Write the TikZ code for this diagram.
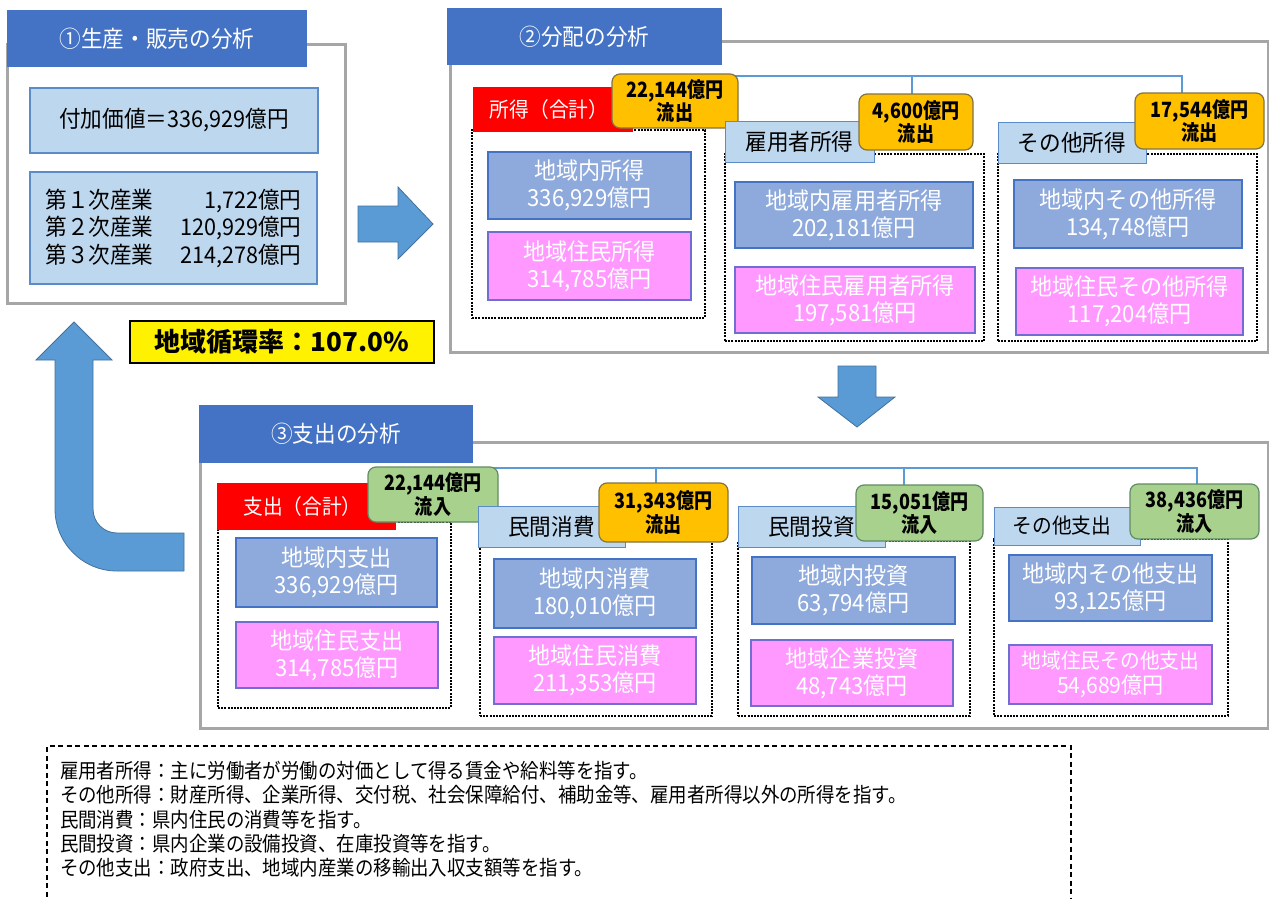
\documentclass[tikz,border=0pt]{standalone}
\usepackage{fontspec}
\newfontfamily\jp{Noto Sans CJK JP}
\newfontfamily\jpc[FakeStretch=0.86]{Noto Sans CJK JP}
\newfontfamily\jpm[FakeStretch=0.94]{Noto Sans CJK JP}
\newfontfamily\jpn[FakeStretch=0.9]{Noto Sans CJK JP}
\newcommand\jfs[2]{\fontsize{#1}{#2}\selectfont}
\definecolor{hblue}{RGB}{68,114,196}
\definecolor{fgray}{RGB}{166,166,166}
\definecolor{lblue}{RGB}{189,215,238}
\definecolor{lbord}{RGB}{91,140,200}
\definecolor{mblue}{RGB}{142,169,219}
\definecolor{mbord}{RGB}{68,114,196}
\definecolor{pinkf}{RGB}{255,153,255}
\definecolor{pbord}{RGB}{112,110,210}
\definecolor{orf}{RGB}{255,192,0}
\definecolor{orb}{RGB}{130,115,70}
\definecolor{grf}{RGB}{169,209,142}
\definecolor{grb}{RGB}{96,140,100}
\definecolor{connc}{RGB}{91,155,213}
\definecolor{arf}{RGB}{91,155,213}
\definecolor{arb}{RGB}{65,113,156}
\pgfdeclarelayer{bg}
\pgfdeclarelayer{mid}
\pgfsetlayers{bg,mid,main}
\newcommand\bx[7]{\node[#2, minimum width={(#5)-(#3)}, minimum height={(#6)-(#4)}] (#1) at ({((#3)+(#5))/2},{((#4)+(#6))/2}) {#7};}
\begin{document}
\begin{tikzpicture}[x=1pt,y=-1pt,
  every node/.style={inner sep=0pt, outer sep=0pt, align=center},
  frame/.style={draw=fgray, line width=3pt, fill=white},
  hdr/.style={fill=hblue, text=white, font=\jpm\jfs{23}{27}},
  lbox/.style={fill=lblue, draw=lbord, line width=1.2pt, font=\jpm\jfs{23}{27.5}},
  lhead/.style={fill=lblue, draw=lbord, line width=1pt, font=\jpm\jfs{23}{27}},
  mbox/.style={fill=mblue, draw=mbord, line width=1.5pt, text=white, font=\jpm\jfs{23.5}{27}},
  pbox/.style={fill=pinkf, draw=pbord, line width=1.5pt, text=white, font=\jpm\jfs{23.5}{27}},
  dbox/.style={draw=black, dash pattern=on 2pt off 1.2pt, line width=1.2pt},
  redbox/.style={fill=red, text=white, font=\jpm\jfs{21}{24}},
  obox/.style={fill=orf, draw=orb, line width=1.2pt, rounded corners=8pt, font=\jpc\bfseries\jfs{21}{22}},
  gbox/.style={fill=grf, draw=grb, line width=1.2pt, rounded corners=8pt, font=\jpc\bfseries\jfs{21}{22}},
  ybox/.style={fill=yellow, draw=black, line width=1.5pt, font=\jp\bfseries\jfs{26}{30}},
  conn/.style={draw=connc, line width=2.2pt},
  arr/.style={fill=arf, draw=arb, line width=0.8pt},
  notebox/.style={draw=black, line width=1.3pt, dash pattern=on 5pt off 3.5pt},
  note/.style={anchor=base west, font=\jpn\jfs{20.5}{24}}]
\useasboundingbox (0,0) rectangle (1269,899);

\begin{pgfonlayer}{bg}
\bx{f1}{frame}{7}{45}{345}{303}{}
\bx{f2}{frame}{450}{42}{1268}{352}{}
\bx{f3}{frame}{200}{442}{1268}{728}{}
\end{pgfonlayer}

% Panel 1
\bx{h1}{hdr}{7}{10}{307}{67}{①生産・販売の分析}
\bx{va}{lbox}{30}{88}{318}{153}{付加価値＝336,929億円}
\bx{ind}{lbox}{30}{172}{317}{284}{\hbox to 256pt{第１次産業\hfill 1,722億円}\\\hbox to 256pt{第２次産業\hfill 120,929億円}\\\hbox to 256pt{第３次産業\hfill 214,278億円}}

% arrows
\filldraw[arr] (358,206) -- (398,206) -- (398,187) -- (433,224) -- (398,259) -- (398,242) -- (358,242) -- cycle;
\filldraw[arr] (838,366) -- (876,366) -- (876,397) -- (895,397) -- (857,427) -- (818,397) -- (838,397) -- cycle;
\filldraw[arr] (74,322) -- (112,360) -- (93,360) -- (93,509) .. controls (93,522.3) and (103.7,533) .. (117,533) -- (184,533) -- (184,571) -- (117,571) .. controls (82.8,571) and (55,543.2) .. (55,509) -- (55,360) -- (36,360) -- cycle;

\bx{rate}{ybox}{130}{321}{434}{363}{地域循環率：107.0\%}

% Panel 2
\bx{h2}{hdr}{447}{8}{722}{65}{②分配の分析}
\bx{d21}{dbox}{472}{130}{705}{318}{}
\bx{t21}{redbox}{473}{87}{633}{132}{所得（合計）\hspace{8pt}}
\bx{o21}{obox}{612}{74}{738}{128}{22,144億円\\流出}
\bx{m21}{mbox}{488}{152}{691}{219}{地域内所得\\336,929億円}
\bx{p21}{pbox}{488}{232}{691}{300}{地域住民所得\\314,785億円}

\bx{d22}{dbox}{725}{154}{984}{341}{}
\bx{t22}{lhead}{725}{121}{874}{162}{雇用者所得}
\bx{o22}{obox}{859}{94}{973}{150}{4,600億円\\流出}
\bx{m22}{mbox}{735}{182}{973}{248}{地域内雇用者所得\\202,181億円}
\bx{p22}{pbox}{735}{267}{975}{333}{地域住民雇用者所得\\197,581億円}

\bx{d23}{dbox}{998}{154}{1257}{341}{}
\bx{t23}{lhead}{998}{122}{1146}{163}{その他所得}
\bx{o23}{obox}{1135}{93}{1264}{149}{17,544億円\\流出}
\bx{m23}{mbox}{1014}{180}{1242}{248}{地域内その他所得\\134,748億円}
\bx{p23}{pbox}{1016}{268}{1243}{335}{地域住民その他所得\\117,204億円}

\coordinate (c2m) at (912,76);
\coordinate (c2r) at (1182,76);
\begin{pgfonlayer}{mid}
\draw[conn] (o21) |- (c2r) -- (c2r |- o23.north);
\draw[conn] (c2m) -- (c2m |- o22.north);
\end{pgfonlayer}

% Panel 3
\bx{h3}{hdr}{199}{405}{473}{463}{③支出の分析}
\bx{d31}{dbox}{218}{522}{451}{708}{}
\bx{t31}{redbox}{217}{483}{396}{530}{支出（合計）\hspace{8pt}}
\bx{g31}{gbox}{368}{467}{498}{522}{22,144億円\\流入}
\bx{m31}{mbox}{236}{538}{437}{607}{地域内支出\\336,929億円}
\bx{p31}{pbox}{236}{622}{438}{688}{地域住民支出\\314,785億円}

\bx{d32}{dbox}{480}{541}{712}{716}{}
\bx{t32}{lhead}{478}{506}{625}{547}{民間消費}
\bx{o32}{obox}{599}{483}{728}{542}{31,343億円\\流出}
\bx{m32}{mbox}{494}{559}{696}{628}{地域内消費\\180,010億円}
\bx{p32}{pbox}{494}{637}{696}{704}{地域住民消費\\211,353億円}

\bx{d33}{dbox}{738}{541}{970}{716}{}
\bx{t33}{lhead}{738}{506}{885}{547}{民間投資}
\bx{g33}{gbox}{856}{485}{983}{541}{15,051億円\\流入}
\bx{m33}{mbox}{752}{557}{955}{624}{地域内投資\\63,794億円}
\bx{p33}{pbox}{751}{640}{953}{706}{地域企業投資\\48,743億円}

\bx{d34}{dbox}{994}{539}{1228}{716}{}
\bx{t34}{lhead,font=\jpm\jfs{21}{24}}{994}{507}{1140}{545}{その他支出\hspace{10pt}}
\bx{g34}{gbox}{1130}{484}{1259}{539}{38,436億円\\流入}
\bx{m34}{mbox}{1009}{555}{1212}{621}{地域内その他支出\\93,125億円}
\bx{p34}{pbox,font=\jpm\jfs{21}{25}}{1009}{645}{1212}{704}{地域住民その他支出\\{\jfs{22.5}{25}54,689億円}}

\coordinate (c3a) at (656,468);
\coordinate (c3b) at (904,468);
\coordinate (c3c) at (1197,468);
\begin{pgfonlayer}{mid}
\draw[conn] (g31) |- (c3c) -- (c3c |- g34.north);
\draw[conn] (c3a) -- (c3a |- o32.north);
\draw[conn] (c3b) -- (c3b |- g33.north);
\end{pgfonlayer}

% Notes
\draw[notebox] (47,905) -- (47,746) -- (1071,746) -- (1071,905);
\node[note] (n1) at (60,778) {雇用者所得：主に労働者が労働の対価として得る賃金や給料等を指す。};
\node[note] (n2) at (60,802) {その他所得：財産所得、企業所得、交付税、社会保障給付、補助金等、雇用者所得以外の所得を指す。};
\node[note] (n3) at (60,827) {民間消費：県内住民の消費等を指す。};
\node[note] (n4) at (60,851) {民間投資：県内企業の設備投資、在庫投資等を指す。};
\node[note] (n5) at (60,875) {その他支出：政府支出、地域内産業の移輸出入収支額等を指す。};
\end{tikzpicture}
\end{document}
